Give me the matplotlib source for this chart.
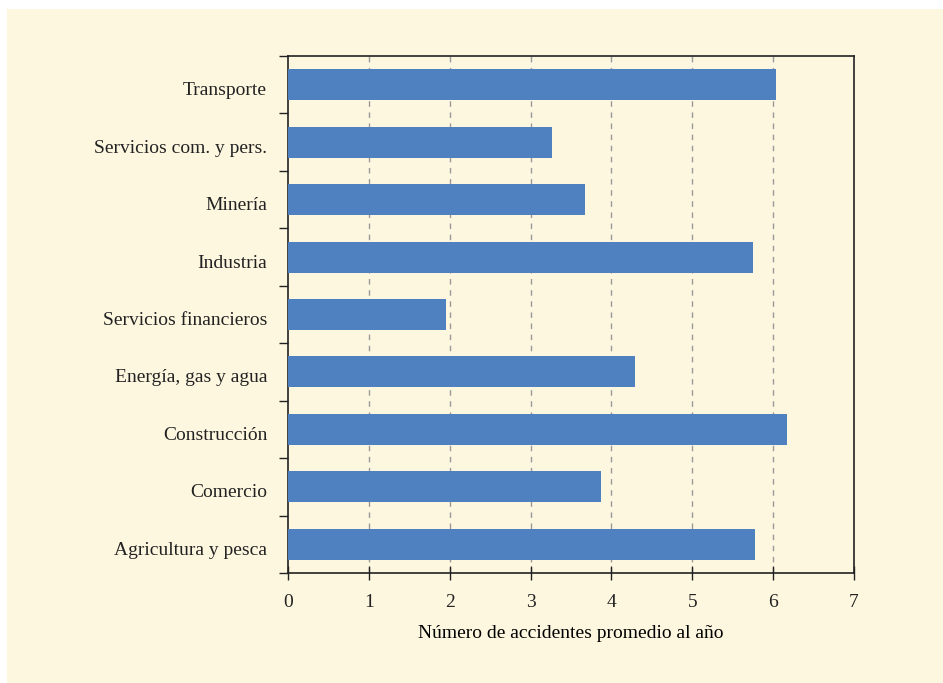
import matplotlib
matplotlib.use("Agg")
import matplotlib.pyplot as plt
import matplotlib.transforms as mtransforms
import numpy as np

categories = ["Agricultura y pesca", "Comercio", "Construcción", "Energía, gas y agua",
              "Servicios financieros", "Industria", "Minería", "Servicios com. y pers.",
              "Transporte"]
values = [5.77, 3.87, 6.17, 4.29, 1.95, 5.75, 3.67, 3.26, 6.04]
xticks = [0, 1, 2, 3, 4, 5, 6, 7]
xlabel = "Número de accidentes promedio al año"

W, H = 943, 683
fig = plt.figure(figsize=(W/100, H/100), dpi=100, facecolor="white")
cream = "#FEF7E0"
bg = fig.add_axes([7/W, 0, 1 - 7/W, 1 - 9/H], zorder=-10)
bg.set_facecolor(cream)
bg.set_xticks([]); bg.set_yticks([])
for s in bg.spines.values():
    s.set_visible(False)

left, right, top, bottom = 288, 854, 56, 573
ax = fig.add_axes([left/W, 1 - bottom/H, (right-left)/W, (bottom-top)/H], zorder=1)
ax.set_facecolor(cream)

plt.rcParams['font.family'] = ['Liberation Serif', 'DejaVu Serif']
fs = 14

y = np.arange(len(categories))
ax.barh(y, values, height=0.54, color="#4F80C0", zorder=3)
ax.set_xlim(0, 7)
ax.set_ylim(-0.5, len(categories) - 0.5)

ax.set_xticks(xticks)
ax.set_xticklabels([str(t) for t in xticks], fontsize=fs, family=['Liberation Serif'])
ax.set_yticks(y)
ax.set_yticklabels(categories, fontsize=fs, family=['Liberation Serif'])
ax.tick_params(axis='y', which='major', length=0, pad=15)
ax.set_yticks(np.arange(-0.5, len(categories)), minor=True)
ax.tick_params(axis='y', which='minor', length=6.5, width=1.0, direction='out', color='#222222')
ax.tick_params(axis='x', which='major', length=10, width=1.0, direction='inout', color='#222222', pad=10)

for v in xticks[1:-1]:
    ax.axvline(v, color="#999999", linestyle=(0, (4, 4)), linewidth=1.0, zorder=1)

for s in ax.spines.values():
    s.set_linewidth(1.2)
    s.set_color("#222222")

ax.set_xlabel(xlabel, fontsize=fs, family=['Liberation Serif'], labelpad=10)
offset = mtransforms.ScaledTranslation(0, -4/100, fig.dpi_scale_trans)
for lab in ax.get_yticklabels():
    lab.set_transform(lab.get_transform() + offset)
for lab in ax.get_xticklabels() + ax.get_yticklabels():
    lab.set_color("#222222")

fig.savefig("out.png", dpi=100, facecolor="white")
